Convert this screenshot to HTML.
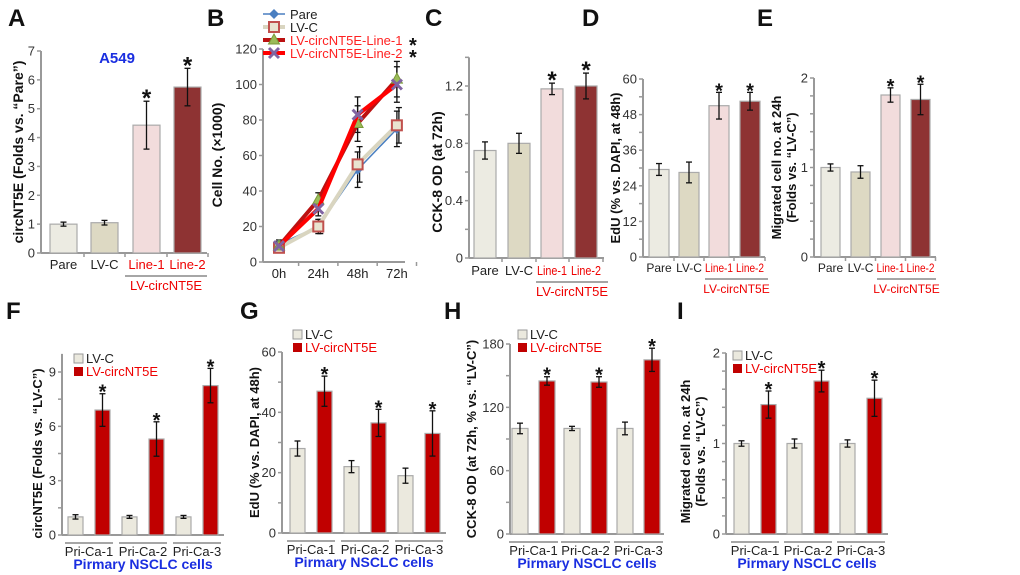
<!DOCTYPE html>
<html><head><meta charset="utf-8"><style>
html,body{margin:0;padding:0;background:#fff;}
svg{display:block;font-family:"Liberation Sans",Arial,sans-serif;}
</style></head><body>
<svg id="fig" width="1020" height="575" viewBox="0 0 1020 575"></svg>
<script>
// ---- data ----
const catsTop = ["Pare","LV-C","Line-1","Line-2"];
const aVals = [1.0,1.05,4.43,5.75];
const aErr = [0.07,0.08,0.83,0.65];
const cVals = [0.75,0.80,1.18,1.20];
const cErr = [0.06,0.07,0.04,0.09];
const dVals = [29.5,28.5,51,52.5];
const dErr = [2,3.5,4.5,3];
const eVals = [1.0,0.95,1.81,1.76];
const eErr = [0.04,0.07,0.08,0.17];
const bTimes = ["0h","24h","48h","72h"];
const bPare = [10,20,52,75];
const bLVC = [8,20,55,77];
const bLine1 = [9,35,78,103];
const bLine2 = [9,30,83,100];
const bErr = [3,5,10,10];
const groups = ["Pri-Ca-1","Pri-Ca-2","Pri-Ca-3"];
const fCtrl = [1,1,1], fCtrlErr=[0.12,0.08,0.08];
const fOE = [6.9,5.3,8.25], fOEErr=[0.9,0.95,0.95];
const gCtrl = [28,22,19], gCtrlErr=[2.5,2,2.5];
const gOE = [47,36.5,33], gOEErr=[5,4.5,7.5];
const hCtrl = [100,100,100], hCtrlErr=[5,2,6];
const hOE = [145,144,165], hOEErr=[4,5,11];
const iCtrl = [1,1,1], iCtrlErr=[0.03,0.05,0.04];
const iOE = [1.43,1.69,1.5], iOEErr=[0.15,0.12,0.2];

const NS="http://www.w3.org/2000/svg";
const svg=document.getElementById('fig');
function el(tag,attrs,parent,text){const e=document.createElementNS(NS,tag);for(const k in attrs)e.setAttribute(k,attrs[k]);if(text!==undefined)e.textContent=text;(parent||svg).appendChild(e);return e;}
function txt(x,y,s,opt,parent,name){opt=opt||{};const t=el('text',{x:x,y:y,'font-size':opt.size||13,'text-anchor':opt.anchor||'middle',fill:opt.fill||'#222','font-weight':opt.bold?'bold':'normal'},parent,s);if(opt.rot)t.setAttribute('transform','rotate(-90 '+x+' '+y+')');
if(opt.len){t.setAttribute('textLength',opt.len);t.setAttribute('lengthAdjust','spacingAndGlyphs');}


return t;}

function axes(g,cfg){
  const ys=v=>cfg.y0-(v/cfg.vmax)*(cfg.y0-cfg.ytop);
  el('line',{x1:cfg.ax,y1:cfg.y0,x2:cfg.ax,y2:ys(cfg.axTop),stroke:'#999','stroke-width':2},g);
  el('line',{x1:cfg.ax,y1:cfg.y0,x2:cfg.axEnd,y2:cfg.y0,stroke:'#999','stroke-width':2},g);
  for(let v=0;v<=cfg.axTop+1e-9;v+=cfg.minor){el('line',{x1:cfg.ax-4,y1:ys(v),x2:cfg.ax,y2:ys(v),stroke:'#999','stroke-width':1.5},g);}
  cfg.ticks.forEach((v,i)=>{const t=txt(cfg.ax-6,ys(v)+4.5,cfg.tickLabels[i],{anchor:'end',size:13,fill:'#333'},g);
    });
  return ys;
}
function errbar(g,x,yTop,yBot){
  el('line',{x1:x,y1:yTop,x2:x,y2:yBot,stroke:'#111','stroke-width':1.3},g);
  el('line',{x1:x-3,y1:yTop,x2:x+3,y2:yTop,stroke:'#111','stroke-width':1.3},g);
  el('line',{x1:x-3,y1:yBot,x2:x+3,y2:yBot,stroke:'#111','stroke-width':1.3},g);
}
function bar(g,x,w,v,e,ys,fill,name,star){
  const r=el('rect',{x:x,y:ys(v),width:w,height:ys(0)-ys(v),fill:fill,stroke:'#aaa','stroke-width':1.2},g);
  
  
  errbar(g,x+w/2,ys(v+e),ys(v-e));
  if(star){const s=txt(x+w/2,ys(v+e)+5,'*',{size:star,bold:true,fill:'#111'},g);}
}
function letter(x,y,s){const t=txt(x,y,s,{size:24,bold:true,anchor:'start',fill:'#111'});}

// ---- top single-bar panels ----
const topFills=['#ecebe2','#ddd9c3','#f2dcdc','#8e3333'];
function topPanel(name,cfg,vals,errs){
  const g=el('g',{});
  const ys=axes(g,cfg);
  vals.forEach((v,i)=>{bar(g,cfg.bx[i],cfg.bw,v,errs[i],ys,topFills[i],'bar-'+catsTop[i].toLowerCase(),i>=2?cfg.star:0);
    txt(cfg.bx[i]+cfg.bw/2,cfg.y0+cfg.lblDy,catsTop[i],{size:cfg.lsize||13,fill:i>=2?'#e00':'#222',len:cfg.llen?cfg.llen[i]:undefined},g,'x-tick-label');
    el('line',{x1:cfg.bx[i]+cfg.bw+(cfg.gap/2),y1:cfg.y0,x2:cfg.bx[i]+cfg.bw+(cfg.gap/2),y2:cfg.y0+4,stroke:'#999','stroke-width':1.5},g);});
  el('line',{x1:cfg.ul[0],y1:cfg.y0+cfg.lblDy+7,x2:cfg.ul[1],y2:cfg.y0+cfg.lblDy+7,stroke:'#888','stroke-width':1.5},g);
  txt((cfg.ul[0]+cfg.ul[1])/2,cfg.y0+cfg.lblDy+21,'LV-circNT5E',{size:cfg.lsize||13,fill:'#e00'},g,'group-label');
  cfg.ytitle.forEach((s,k)=>txt(cfg.tx+k*15,(cfg.y0+cfg.ytop)/2+(cfg.tyOff||0),s,{size:cfg.tsize||14,bold:true,rot:true,fill:'#111'},g,'y-axis-title'));
}
letter(8,26,'A');
topPanel('panel-a',{ax:41,y0:253,ytop:51,vmax:7,axTop:7,minor:1,ticks:[0,1,2,3,4,5,6,7],tickLabels:['0','1','2','3','4','5','6','7'],axEnd:207,bx:[50,91,133,174],bw:27,gap:14,star:24,lblDy:16,ul:[125,207],ytitle:['circNT5E (Folds vs. \u201cPare\u201d)'],tx:23},aVals,aErr);
{const t=txt(117,63,'A549',{size:15,bold:true,fill:'#1a2ee0'});}
letter(425,26,'C');
topPanel('panel-c',{ax:469,y0:258,ytop:86,vmax:1.2,axTop:1.4,minor:0.2,ticks:[0,0.4,0.8,1.2],tickLabels:['0','0.4','0.8','1.2'],axEnd:604,bx:[474,508,541,575],bw:22,gap:12,star:24,lblDy:17,lsize:13,llen:[0,0,30,30].map(v=>v||undefined),ul:[536,608],ytitle:['CCK-8 OD (at 72h)'],tx:442,tyOff:0},cVals,cErr);
letter(582,26,'D');
topPanel('panel-d',{ax:643,y0:257,ytop:79,vmax:60,axTop:60,minor:6,ticks:[0,12,24,36,48,60],tickLabels:['0','12','24','36','48','60'],axEnd:765,bx:[649,679,709,740],bw:20,gap:10,star:20,lblDy:15,lsize:12,llen:[undefined,undefined,28,28],ul:[705,768],ytitle:['EdU (% vs. DAPI, at 48h)'],tx:620,tsize:13},dVals,dErr);
letter(757,26,'E');
topPanel('panel-e',{ax:814,y0:257,ytop:78,vmax:2,axTop:2,minor:0.2,ticks:[0,1,2],tickLabels:['0','1','2'],axEnd:936,bx:[821,851,881,911],bw:19,gap:11,star:20,lblDy:15,lsize:12,llen:[undefined,undefined,28,28],ul:[877,936],ytitle:['Migrated cell no. at 24h','(Folds vs. \u201cLV-C\u201d)'],tx:781,tsize:13},eVals,eErr);

// ---- panel B line chart ----
letter(207,26,'B');
(function(){
  const g=el('g',{});
  const cfg={ax:263,y0:262,ytop:49,vmax:120,axTop:120,minor:20,ticks:[0,20,40,60,80,100,120],tickLabels:['0','20','40','60','80','100','120'],axEnd:405};
  const ys=axes(g,cfg);
  const xs=i=>279+i*39.3;
  bTimes.forEach((t,i)=>{txt(xs(i),cfg.y0+16,t,{size:13},g,'x-tick-label');el('line',{x1:xs(i)+19.6,y1:cfg.y0,x2:xs(i)+19.6,y2:cfg.y0+4,stroke:'#999','stroke-width':1.5},g);});
  txt(222,155,'Cell No. (\u00d71000)',{size:14,bold:true,rot:true,fill:'#111'},g,'y-axis-title');
  const series=[
    {name:'Pare',d:bPare,c:'#4a7fc1',w:1.5,m:'diamond'},
    {name:'LV-C',d:bLVC,c:'#d9d5c0',w:4,m:'square'},
    {name:'LV-circNT5E-Line-1',d:bLine1,c:'#b11',w:4,m:'tri'},
    {name:'LV-circNT5E-Line-2',d:bLine2,c:'#f00',w:4,m:'x'}];
  series.forEach(s=>{s.d.forEach((v,i)=>errbar(g,xs(i)+(s.name==='LV-C'?2:0),ys(v+bErr[i]*(i>1?1:0.8)),ys(v-bErr[i]*(i>1?1:0.8))));});
  function marker(gg,m,x,y){
    if(m==='diamond')el('polygon',{points:`${x},${y-5} ${x+5},${y} ${x},${y+5} ${x-5},${y}`,fill:'#4a7fc1'},gg);
    if(m==='square')el('rect',{x:x-5,y:y-5,width:10,height:10,fill:'#e9e4d0',stroke:'#c0504d','stroke-width':2},gg);
    if(m==='tri')el('polygon',{points:`${x},${y-6} ${x+5.5},${y+4} ${x-5.5},${y+4}`,fill:'#9bbb59',stroke:'#7a9a3a','stroke-width':1},gg);
    if(m==='x'){el('path',{d:`M${x-5},${y-5}L${x+5},${y+5}M${x+5},${y-5}L${x-5},${y+5}`,stroke:'#8064a2','stroke-width':3},gg);}
  }
  series.forEach(s=>{
    const p=el('polyline',{points:s.d.map((v,i)=>xs(i)+','+ys(v)).join(' '),fill:'none',stroke:s.c,'stroke-width':s.w},g);
    
    
    s.d.forEach((v,i)=>marker(g,s.m,xs(i),ys(v)));
  });
  txt(409,52,'*',{size:20,bold:true,anchor:'start',fill:'#111'},g,'significance-star');
  txt(409,64,'*',{size:20,bold:true,anchor:'start',fill:'#111'},g,'significance-star');
  series.forEach((s,k)=>{const y=14+k*13;
    el('line',{x1:263,y1:y,x2:285,y2:y,stroke:s.c,'stroke-width':s.w},g);marker(g,s.m,274,y);
    txt(290,y+5,s.name,{size:13,anchor:'start',fill:k>=2?'#f22':'#222'},g,'legend-entry');});
})();

// ---- bottom grouped panels ----
function groupPanel(name,cfg,ctrl,ctrlE,oe,oeE){
  const g=el('g',{});
  const ys=axes(g,cfg);
  groups.forEach((gr,i)=>{
    const x0=cfg.gx[i];
    bar(g,x0,cfg.bw,ctrl[i],ctrlE[i],ys,'#ebe9de','bar-lvc-'+(i+1),0);
    bar(g,x0+cfg.pair,cfg.bw,oe[i],oeE[i],ys,'#c00000','bar-oe-'+(i+1),20);
    el('line',{x1:x0-3,y1:cfg.y0+8,x2:x0+cfg.pair+cfg.bw+3,y2:cfg.y0+8,stroke:'#888','stroke-width':1.5},g);
    txt(x0+(cfg.pair+cfg.bw)/2,cfg.y0+21,gr,{size:13},g,'x-tick-label');
  });
  txt(cfg.ax+(cfg.axEnd-cfg.ax)/2,cfg.y0+34,'Pirmary NSCLC cells',{size:14,bold:true,fill:'#1a2ee0'},g,'x-axis-title');
  el('rect',{x:cfg.lx,y:cfg.ly,width:9,height:9,fill:'#ebe9de',stroke:'#999'},g);
  el('rect',{x:cfg.lx,y:cfg.ly+13,width:9,height:9,fill:'#c00000'},g);
  txt(cfg.lx+12,cfg.ly+9,'LV-C',{size:13,anchor:'start'},g,'legend-entry');
  txt(cfg.lx+12,cfg.ly+22,'LV-circNT5E',{size:13,anchor:'start',fill:'#e00'},g,'legend-entry');
  cfg.ytitle.forEach((s,k)=>txt(cfg.tx+k*15,(cfg.y0+cfg.ytop)/2+(cfg.tyOff||0),s,{size:13,bold:true,rot:true,fill:'#111'},g,'y-axis-title'));
}
letter(6,319,'F');
groupPanel('panel-f',{ax:62,y0:535,ytop:372,vmax:9,axTop:10,minor:1.5,ticks:[0,3,6,9],tickLabels:['0','3','6','9'],axEnd:224,gx:[68,122,176],bw:15,pair:27,lx:74,ly:354,ytitle:['circNT5E (Folds vs. \u201cLV-C\u201d)'],tx:42,tyOff:0},fCtrl,fCtrlErr,fOE,fOEErr);
letter(240,319,'G');
groupPanel('panel-g',{ax:282,y0:533,ytop:352,vmax:60,axTop:60,minor:10,ticks:[0,20,40,60],tickLabels:['0','20','40','60'],axEnd:446,gx:[290,344,398],bw:15,pair:27,lx:293,ly:330,ytitle:['EdU (% vs. DAPI, at 48h)'],tx:259},gCtrl,gCtrlErr,gOE,gOEErr);
letter(444,319,'H');
groupPanel('panel-h',{ax:510,y0:534,ytop:344,vmax:180,axTop:180,minor:30,ticks:[0,60,120,180],tickLabels:['0','60','120','180'],axEnd:664,gx:[512,564,617],bw:16,pair:27,lx:518,ly:330,ytitle:['CCK-8 OD  (at 72h, % vs. \u201cLV-C\u201d)'],tx:476},hCtrl,hCtrlErr,hOE,hOEErr);
letter(677,319,'I');
groupPanel('panel-i',{ax:726,y0:534,ytop:353,vmax:2,axTop:2,minor:0.2,ticks:[0,1,2],tickLabels:['0','1','2'],axEnd:888,gx:[734,787,840],bw:15,pair:27,lx:733,ly:351,ytitle:['Migrated cell no. at 24h','(Folds vs. \u201cLV-C\u201d)'],tx:690,tyOff:8},iCtrl,iCtrlErr,iOE,iOEErr);
</script>
</body></html>
